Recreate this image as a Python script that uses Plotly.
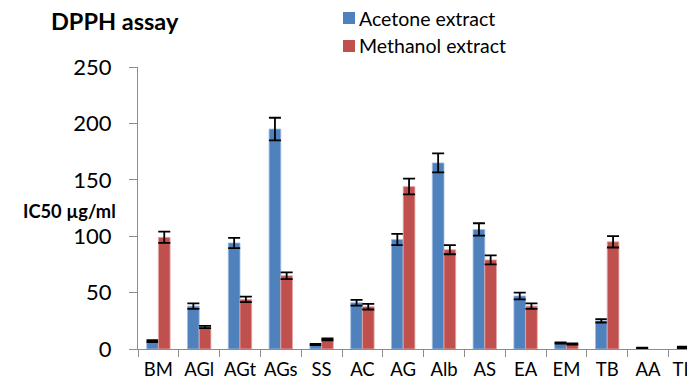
import plotly.graph_objects as go

categories = ["BM", "AGl", "AGt", "AGs", "SS", "AC", "AG", "Alb", "AS", "EA", "EM", "TB", "AA", "TLX"]
acetone = [7, 38, 94, 195, 4, 41, 97, 165, 106, 47, 5.3, 25, 1.0, 1.5]
acetone_err = [0.8, 2.5, 4.5, 10, 0.5, 2.5, 5, 8.5, 5.5, 3, 0.5, 1.5, 0.2, 0.6]
methanol = [99, 19.5, 44, 65, 8.5, 37.5, 144, 88, 79, 38, 4.5, 95, None, None]
methanol_err = [5, 1, 2.5, 3, 0.8, 2.5, 7, 4, 4, 2.5, 0.5, 5, None, None]
series_names = ["Acetone extract", "Methanol extract"]

blue = "#4F81BD"
red = "#C0504D"
green = "#4E9F73"
acetone_colors = [green if c == "AA" else blue for c in categories]

# page body has an 8px margin; figure sized to fit the 695x385 window
W, H = 687, 377
L, R, T, B = 130, 0, 59, 36
pw, ph = W - L - R, H - T - B
cat_px = 40.8
xmax = pw / cat_px - 0.5

def px_to_paper_x(px):
    return (px - L) / pw

def py_to_paper_y(py):
    return (H - B - py) / ph

fig = go.Figure()
fig.add_trace(go.Bar(
    x=categories, y=acetone, name=series_names[0],
    marker=dict(color=acetone_colors, line=dict(color="rgba(160,190,230,0.8)", width=1)),
    error_y=dict(type="data", array=acetone_err, color="black", thickness=1.8, width=6),
    showlegend=False,
))
fig.add_trace(go.Bar(
    x=categories, y=methanol, name=series_names[1],
    marker=dict(color=red, line=dict(color="rgba(230,170,170,0.8)", width=1)),
    error_y=dict(type="data", array=methanol_err, color="black", thickness=1.8, width=6),
    showlegend=False,
))

font_family = "Lato, 'Open Sans', sans-serif"

# manual legend (square swatches + labels) placed like the original
legend_shapes = []
legend_annots = []
for i, (name, col) in enumerate(zip(series_names, [blue, red])):
    top = 4 + 28 * i
    legend_shapes.append(dict(
        type="rect", xref="paper", yref="paper",
        x0=px_to_paper_x(335), x1=px_to_paper_x(347),
        y0=py_to_paper_y(top + 12), y1=py_to_paper_y(top),
        fillcolor=col, line=dict(width=0),
    ))
    legend_annots.append(dict(
        text=name, xref="paper", yref="paper",
        x=px_to_paper_x(349), y=py_to_paper_y(top + 6), xanchor="left", yanchor="middle",
        showarrow=False, font=dict(size=19.5, color="black", family=font_family),
    ))

fig.update_layout(
    width=W, height=H,
    margin=dict(l=L, r=R, t=T, b=B, pad=0, autoexpand=False),
    paper_bgcolor="white", plot_bgcolor="white",
    barmode="group", bargap=0.426, bargroupgap=0,
    font=dict(family=font_family, color="black"),
    showlegend=False,
    xaxis=dict(
        type="category", range=[-0.5, xmax], showgrid=False,
        showline=True, linecolor="#8C8C8C", linewidth=1.3,
        ticks="outside", tickson="boundaries", ticklen=7, tickcolor="#8C8C8C", tickwidth=1.3,
        tickfont=dict(size=18.5, color="black", family=font_family),
        tickangle=0, ticklabelstandoff=4,
        fixedrange=True,
    ),
    yaxis=dict(
        range=[0, 250], tickvals=[0, 50, 100, 150, 200, 250], showgrid=False,
        showline=True, linecolor="#8C8C8C", linewidth=1.3,
        ticks="outside", ticklen=8, tickcolor="#8C8C8C", tickwidth=1.3,
        tickfont=dict(size=22, color="black", family=font_family),
        ticklabelstandoff=13,
        zeroline=False, fixedrange=True,
    ),
    shapes=legend_shapes,
    annotations=[
        dict(text="<b>DPPH assay</b>", xref="paper", yref="paper",
             x=px_to_paper_x(41), y=py_to_paper_y(13), xanchor="left", yanchor="middle",
             showarrow=False, font=dict(size=23.5, color="black", family=font_family)),
        dict(text="<b>IC50 µg/ml</b>", xref="paper", yref="paper",
             x=px_to_paper_x(110), y=py_to_paper_y(203), xanchor="right", yanchor="middle",
             showarrow=False, font=dict(size=18.3, color="black", family=font_family)),
    ] + legend_annots,
)

fig.write_html("out.html")
